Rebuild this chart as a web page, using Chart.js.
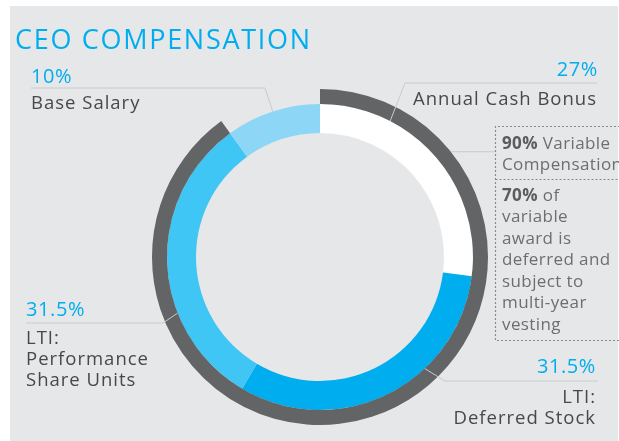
<!DOCTYPE html>
<html>
<head>
<meta charset="utf-8">
<script src="https://cdn.jsdelivr.net/npm/chart.js@4"></script>
<style>
  html, body { margin: 0; padding: 0; background: #fff; }
  #wrap { width: 619px; height: 441px; position: relative; }
</style>
</head>
<body>
<div id="wrap"><canvas id="ceo"></canvas></div>
<script>
// pay mix, in percent of total compensation
const categories = ['Annual Cash Bonus', 'LTI: Deferred Stock', 'LTI: Performance Share Units', 'Base Salary'];
const mixValues = [27, 31.5, 31.5, 10];
const mixColors = ['#ffffff', '#00aeef', '#40c6f4', '#8ed6f6'];

// outer ring: variable vs fixed pay
const variableLabels = ['Variable Compensation', 'Fixed'];
const variableValues = [90, 10];
const deferredShare = 70;

const FONT = '"Open Sans", sans-serif';
const CYAN = '#00aeef';
const LABEL = '#48484a';
const LEADER = '#c9cacc';

// callout layout: angle (deg, clockwise from 12 o'clock) where the leader meets the ring
const callouts = [
  { idx: 3, angle: 342, elbow: [265, 88], lineTo: 31, align: 'left', x: 31, pctY: 83, lines: ['Base Salary'], lineY: 109 },
  { idx: 0, angle: 27.3, elbow: [405, 83], lineTo: 597, align: 'right', x: 598, pctY: 76, lines: ['Annual Cash Bonus'], lineY: 105, textX: 413 },
  { idx: 2, angle: 248.5, elbow: [163, 323], lineTo: 26, align: 'left', x: 26, pctY: 315.5, lines: ['LTI:', 'Performance', 'Share Units'], lineY: 344 },
  { idx: 1, angle: 136.8, elbow: [445, 381], lineTo: 598, align: 'right', x: 596, pctY: 373, lines: ['LTI:', 'Deferred Stock'], lineY: 403 }
];

function ringPoint(cx, cy, r, deg) {
  const a = (deg - 90) * Math.PI / 180;
  return [cx + r * Math.cos(a), cy + r * Math.sin(a)];
}

const decorations = {
  id: 'decorations',
  beforeDraw(chart) {
    const ctx = chart.ctx;
    ctx.save();
    ctx.fillStyle = '#ffffff';
    ctx.fillRect(0, 0, chart.width, chart.height);
    ctx.fillStyle = '#e6e7e8';
    ctx.fillRect(10, 6, 608, chart.height - 6);
    ctx.restore();
  },
  afterDraw(chart) {
    const ctx = chart.ctx;
    const inner = chart.getDatasetMeta(1).data[0];
    const outer = chart.getDatasetMeta(0).data[0];
    const cx = inner.x, cy = inner.y;
    ctx.save();

    // title
    ctx.fillStyle = CYAN;
    ctx.font = '27px ' + FONT;
    ctx.letterSpacing = '1.7px';
    ctx.textAlign = 'left';
    ctx.textBaseline = 'alphabetic';
    ctx.fillText('CEO COMPENSATION', 15, 49);

    // leader lines
    ctx.strokeStyle = LEADER;
    ctx.lineWidth = 1;
    callouts.forEach(c => {
      const p = ringPoint(cx, cy, inner.outerRadius, c.angle);
      ctx.beginPath();
      ctx.moveTo(p[0], p[1]);
      ctx.lineTo(c.elbow[0], c.elbow[1]);
      ctx.lineTo(c.lineTo, c.elbow[1]);
      ctx.stroke();
    });
    const vp = ringPoint(cx, cy, outer.outerRadius, 51.2);
    ctx.beginPath();
    ctx.moveTo(vp[0], vp[1]);
    ctx.lineTo(495.5, vp[1]);
    ctx.stroke();

    // callout text
    callouts.forEach(c => {
      ctx.textAlign = c.align;
      ctx.fillStyle = CYAN;
      ctx.font = '20px ' + FONT;
      ctx.letterSpacing = '0.6px';
      ctx.fillText(mixValues[c.idx] + '%', c.x, c.pctY);
      ctx.fillStyle = LABEL;
      ctx.font = '18.5px ' + FONT;
      ctx.letterSpacing = '1px';
      c.lines.forEach((t, i) => {
        if (c.textX) {
          ctx.textAlign = 'left';
          ctx.fillText(t, c.textX, c.lineY + i * 21);
        } else {
          ctx.fillText(t, c.x, c.lineY + i * 21);
        }
      });
    });

    // dashed note box
    ctx.strokeStyle = '#8a8b8d';
    ctx.lineWidth = 1.2;
    ctx.setLineDash([2, 2]);
    ctx.beginPath();
    ctx.moveTo(640, 126.5); ctx.lineTo(495.5, 126.5); ctx.lineTo(495.5, 340.5); ctx.lineTo(640, 340.5);
    ctx.moveTo(495.5, 179.5); ctx.lineTo(640, 179.5);
    ctx.stroke();
    ctx.setLineDash([]);

    ctx.textAlign = 'left';
    ctx.letterSpacing = '0.4px';
    const bx = 502;
    function boldLead(lead, rest, y) {
      ctx.font = 'bold 17px ' + FONT;
      ctx.fillStyle = '#5b5c5e';
      ctx.fillText(lead, bx, y);
      const w = ctx.measureText(lead).width;
      ctx.font = '17px ' + FONT;
      ctx.fillStyle = '#6d6e71';
      ctx.fillText(rest, bx + w, y);
    }
    boldLead(variableValues[0] + '%', ' Variable', 148.5);
    ctx.fillText('Compensation', bx, 170);
    boldLead(deferredShare + '%', ' of', 200.5);
    ['variable', 'award is', 'deferred and', 'subject to', 'multi-year', 'vesting'].forEach((t, i) => {
      ctx.fillText(t, bx, 222 + i * 21.5);
    });
    ctx.restore();
  }
};

new Chart(document.getElementById('ceo'), {
  type: 'doughnut',
  data: {
    labels: categories,
    datasets: [
      {
        label: 'Variable',
        data: variableValues,
        backgroundColor: ['#636466', 'rgba(0,0,0,0)'],
        borderWidth: 0,
        weight: 15
      },
      {
        label: 'Pay mix',
        data: mixValues,
        backgroundColor: mixColors,
        borderWidth: 0,
        weight: 29
      }
    ]
  },
  options: {
    responsive: true,
    maintainAspectRatio: false,
    animation: false,
    cutout: 124,
    layout: { padding: { left: 152, right: 131, top: 89, bottom: 16 } },
    plugins: {
      legend: { display: false },
      tooltip: { enabled: false }
    }
  },
  plugins: [decorations]
});
</script>
</body>
</html>
